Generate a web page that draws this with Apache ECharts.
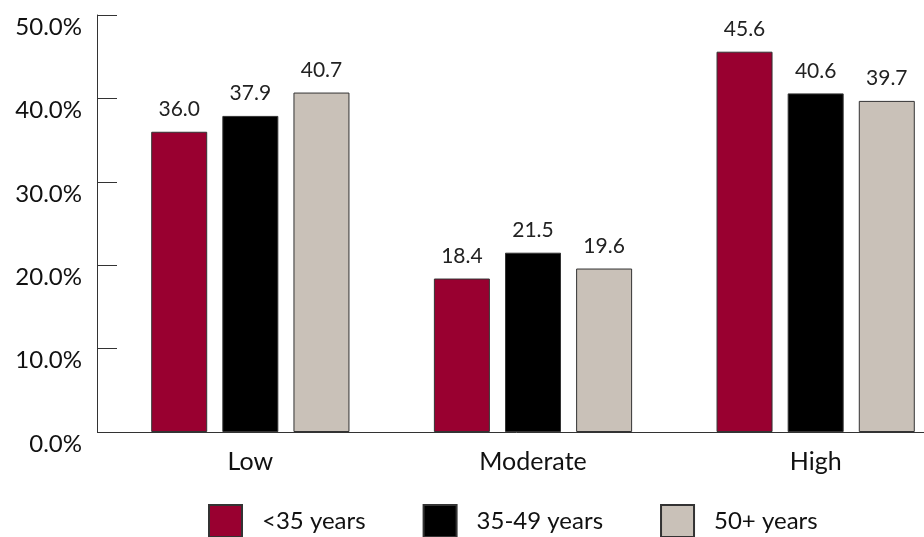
<!DOCTYPE html>
<html>
<head>
<meta charset="utf-8">
<script src="https://cdn.jsdelivr.net/npm/echarts@6/dist/echarts.min.js"></script>
<style>
    html, body { margin: 0; padding: 0; background: #fff; }
    #chart { width: 924px; height: 537px; }
</style>
</head>
<body>
<div id="chart"></div>
<script>
// 数据
const categories = ['Low', 'Moderate', 'High']
const seriesNames = ['<35 years', '35-49 years', '50+ years']
const under35 = [36.0, 18.4, 45.6]
const age35to49 = [37.9, 21.5, 40.6]
const age50plus = [40.7, 19.6, 39.7]
const colors = ['#990030', '#000000', '#c9c1b8']

const fontFamily = 'Lato, "Open Sans", sans-serif'

const makeSeries = (name, data, color) => ({
    name: name,
    type: 'bar',
    data: data,
    barWidth: 56,
    barGap: '27%',
    itemStyle: {
        color: color,
        borderColor: '#333',
        borderWidth: 1
    },
    label: {
        show: true,
        position: 'top',
        distance: 12,
        color: '#222',
        fontSize: 21,
        fontFamily: fontFamily,
        formatter: p => p.value.toFixed(1)
    }
})

const chart = echarts.init(document.getElementById('chart'))
chart.setOption({
    animation: false,
    textStyle: { fontFamily: fontFamily },
    grid: { left: 109, width: 848, top: 15, bottom: 105, outerBoundsMode: 'none', containLabel: false },
    legend: {
        left: 203,
        top: 499,
        itemWidth: 33,
        itemHeight: 32,
        itemGap: 57,
        icon: 'rect',
        textStyle: { fontSize: 24, color: '#111', padding: [0, 0, 0, 15] },
        data: seriesNames
    },
    xAxis: {
        type: 'category',
        data: categories,
        axisLine: { lineStyle: { color: '#333', width: 1 } },
        axisTick: { show: false },
        axisLabel: { fontSize: 25, color: '#111', margin: 17 }
    },
    yAxis: {
        type: 'value',
        min: 0,
        max: 50,
        interval: 10,
        offset: 12,
        splitLine: { show: false },
        axisLine: { show: true, lineStyle: { color: '#333', width: 1 } },
        axisTick: { show: true, inside: true, length: 20, lineStyle: { color: '#333' } },
        axisLabel: {
            fontSize: 24,
            color: '#111',
            margin: 15,
            verticalAlign: 'top',
            formatter: v => v.toFixed(1) + '%'
        }
    },
    series: [
        makeSeries(seriesNames[0], under35, colors[0]),
        makeSeries(seriesNames[1], age35to49, colors[1]),
        makeSeries(seriesNames[2], age50plus, colors[2])
    ]
})
</script>
</body>
</html>
